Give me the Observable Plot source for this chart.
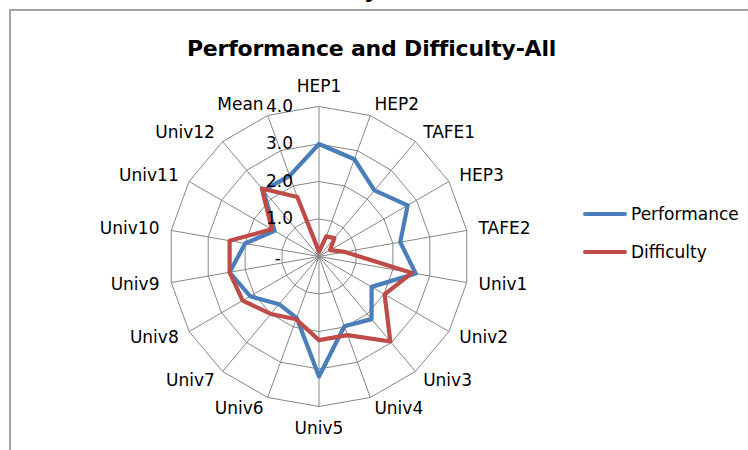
<!DOCTYPE html>
<html>
<head>
<meta charset="utf-8">
<script src="https://cdn.jsdelivr.net/npm/d3@7"></script>
<script src="https://cdn.jsdelivr.net/npm/@observablehq/plot@0.6"></script>
<style>
  html, body { margin: 0; padding: 0; background: #fff; }
  #wrap { position: relative; width: 748px; height: 450px; overflow: hidden; background: #fff; font-family: "DejaVu Sans", sans-serif; }
  #frame { position: absolute; left: 9px; top: 9px; width: 760px; height: 460px; border-left: 2px solid #a3a3a3; border-top: 2px solid #a3a3a3; box-sizing: border-box; }
  #chart { position: absolute; left: 0; top: 0; }
  #title { position: absolute; left: 0; width: 743px; top: 38px; text-align: center; font-weight: bold; font-size: 22px; line-height: 1; color: #000; letter-spacing: -0.2px; }
  #cut { position: absolute; left: 364px; top: -20px; font-weight: bold; font-size: 22px; line-height: 1; color: #000; }
  .leg { position: absolute; left: 583px; height: 20px; display: flex; align-items: center; font-size: 17px; color: #000; }
  .sw { width: 44px; height: 4px; border-radius: 2px; margin-right: 4px; }
</style>
</head>
<body>
<div id="wrap">
  <div id="frame"></div>
  <div id="cut">y</div>
  <div id="title"></div>
  <div id="chart"></div>
  <div id="legend"></div>
</div>
<script>
// ---- data ----
const categories = ["HEP1","HEP2","TAFE1","HEP3","TAFE2","Univ1","Univ2","Univ3","Univ4","Univ5","Univ6","Univ7","Univ8","Univ9","Univ10","Univ11","Univ12","Mean"];
const performance = [3.0, 2.76, 2.3, 2.73, 2.2, 2.62, 1.62, 2.18, 1.98, 3.2, 1.74, 1.66, 2.12, 2.42, 2.0, 1.37, 2.3, 2.29];
const difficulty  = [0.13, 0.57, 0.64, 0.34, 0.7, 2.52, 2.02, 2.96, 2.23, 2.23, 1.78, 2.0, 2.35, 2.42, 2.42, 1.45, 2.37, 1.69];
const seriesNames = ["Performance", "Difficulty"];
const seriesColors = ["#4A7EBB", "#BE4B48"];
const tickValues = [0, 1, 2, 3, 4];
const tickLabels = ["-", "1.0", "2.0", "3.0", "4.0"];
const titleText = "Performance and Difficulty-All";

// ---- geometry helpers ----
const n = categories.length;
const maxV = 4;
const unit = 37.5;          // px per unit
const cx = 318.5, cy = 256; // centre in px
const ang = i => i * 2 * Math.PI / n;
const px = (i, v) => v * Math.sin(ang(i));
const py = (i, v) => v * Math.cos(ang(i));

// rings
const rings = [];
for (const t of tickValues.filter(t => t > 0))
  categories.forEach((c, i) => rings.push({level: t, x: px(i, t), y: py(i, t)}));
// spokes
const spokes = categories.map((c, i) => ({x: px(i, maxV), y: py(i, maxV)}));
// series
const series = [];
[performance, difficulty].forEach((vals, s) =>
  vals.forEach((v, i) => series.push({series: seriesNames[s], x: px(i, v), y: py(i, v)})));
// category labels
const labR = maxV + 12 / unit;
const labels = categories.map((c, i) => {
  const s = Math.sin(ang(i)), co = Math.cos(ang(i));
  return {name: c, x: px(i, labR), y: py(i, labR), side: Math.abs(s) < 0.01 ? (co > 0 ? "top" : "bottom") : (s > 0 ? "right" : "left")};
});
const ticks = tickValues.map((t, k) => ({v: t, label: tickLabels[k]}));

const W = 748, H = 450;
const chart = Plot.plot({
  width: W, height: H, margin: 0,
  style: {fontFamily: "DejaVu Sans, sans-serif", fontSize: "17px", background: "transparent"},
  x: {domain: [-cx / unit, (W - cx) / unit], axis: null},
  y: {domain: [-(H - cy) / unit, cy / unit], axis: null},
  color: {domain: seriesNames, range: seriesColors},
  marks: [
    Plot.line(rings, {x: "x", y: "y", z: "level", curve: "linear-closed", stroke: "#878787", strokeWidth: 1}),
    Plot.link(spokes, {x1: 0, y1: 0, x2: "x", y2: "y", stroke: "#878787", strokeWidth: 1}),
    Plot.line(series, {x: "x", y: "y", z: "series", stroke: "series", curve: "linear-closed", strokeWidth: 4.2, strokeLinejoin: "round"}),
    Plot.text(ticks.filter(d => d.v > 0), {x: 0, y: "v", text: "label", textAnchor: "end", dx: -26, fill: "#000"}),
    Plot.text(ticks.filter(d => d.v === 0), {x: 0, y: "v", text: "label", textAnchor: "end", dx: -38, dy: 2, fill: "#000"}),
    Plot.text(labels.filter(d => d.side === "right"), {x: "x", y: "y", text: "name", textAnchor: "start", fill: "#000"}),
    Plot.text(labels.filter(d => d.side === "left"), {x: "x", y: "y", text: "name", textAnchor: "end", fill: "#000"}),
    Plot.text(labels.filter(d => d.side === "top"), {x: "x", y: "y", text: "name", textAnchor: "middle", dy: -8, fill: "#000"}),
    Plot.text(labels.filter(d => d.side === "bottom"), {x: "x", y: "y", text: "name", textAnchor: "middle", dy: 10, fill: "#000"})
  ]
});
document.getElementById("chart").appendChild(chart);
document.getElementById("title").textContent = titleText;

// legend
const legend = document.getElementById("legend");
seriesNames.forEach((name, k) => {
  const row = document.createElement("div");
  row.className = "leg";
  row.style.top = (204 + k * 38) + "px";
  const sw = document.createElement("span");
  sw.className = "sw";
  sw.style.background = seriesColors[k];
  const tx = document.createElement("span");
  tx.textContent = name;
  row.appendChild(sw); row.appendChild(tx);
  legend.appendChild(row);
});
</script>
</body>
</html>
